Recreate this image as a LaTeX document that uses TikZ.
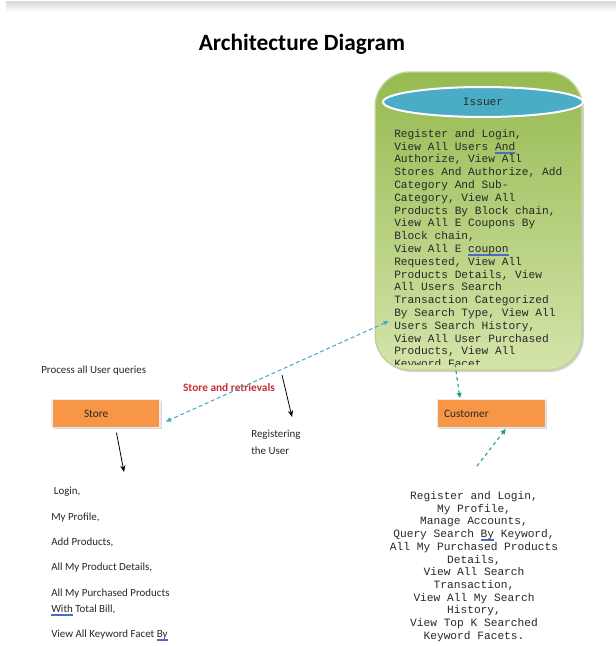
\documentclass[tikz,border=0pt]{standalone}
\usepackage{fontspec}
\setmainfont{Carlito}
\newfontfamily\monofont{Liberation Mono}
\usetikzlibrary{arrows.meta,shadows,calc,shapes.geometric}

\definecolor{issuerblue}{RGB}{75,172,198}
\definecolor{greentop}{RGB}{150,186,80}
\definecolor{greenbot}{RGB}{212,228,170}
\definecolor{greenedge}{RGB}{190,212,150}
\definecolor{boxorange}{RGB}{247,150,70}
\definecolor{linkcyan}{RGB}{75,172,198}
\definecolor{linkgreen}{RGB}{30,160,95}
\definecolor{labelred}{RGB}{200,45,50}
\definecolor{flagblue}{RGB}{70,110,200}
\definecolor{bodytext}{RGB}{40,40,40}

% proofing-style double underline under a word
\newlength\flagw
\newcommand\flagged[1]{\settowidth\flagw{#1}%
  \rlap{\color{flagblue}\rule[-1.6pt]{\flagw}{0.35pt}\hspace{-\flagw}\rule[-2.4pt]{\flagw}{0.35pt}}#1}

\tikzset{
  container/.style={rectangle, rounded corners=26pt, top color=greentop, bottom color=greenbot,
    draw=greenedge, line width=1pt, minimum width=155pt, minimum height=223.5pt,
    drop shadow={opacity=0.35, shadow xshift=1.5pt, shadow yshift=-1.5pt}},
  issuerhead/.style={ellipse, fill=issuerblue, draw=white, line width=1.5pt,
    minimum width=150pt, minimum height=22.5pt, inner sep=0pt,
    drop shadow={opacity=0.3, shadow xshift=0.8pt, shadow yshift=-0.8pt},
    font=\monofont\fontsize{8.4}{10}\selectfont, text=bodytext},
  orangebox/.style={rectangle, fill=boxorange, draw=white!85!gray, line width=0.8pt,
    minimum width=81pt, minimum height=20.5pt, inner sep=0pt,
    drop shadow={opacity=0.3, shadow xshift=1.2pt, shadow yshift=-1.2pt},
    font=\fontsize{8.5}{10}\selectfont, text=bodytext, text width=79pt, align=left},
  monotext/.style={inner sep=0pt, font=\monofont\fontsize{8.4}{9.6}\selectfont, text=bodytext},
  plaintext/.style={inner sep=0pt, font=\fontsize{8.2}{12}\selectfont, text=bodytext},
  cyanlink/.style={draw=linkcyan, dashed, dash pattern=on 3pt off 2pt, line width=0.8pt,
    {Latex[length=4pt,width=4pt]}-{Latex[length=4pt,width=4pt]}},
  greenlink/.style={draw=linkgreen, dashed, dash pattern=on 2.5pt off 2.5pt, line width=0.8pt,
    -{Latex[length=4pt,width=4pt]}},
  blacklink/.style={draw=black, line width=0.6pt, -{Stealth[length=5pt,width=4pt]}},
}

\begin{document}
\begin{tikzpicture}[x=0.75pt, y=-0.75pt]
\useasboundingbox (0,0) rectangle (616,646);
\fill[white] (0,0) rectangle (616,646);
\shade[top color=gray!30, bottom color=white] (6,1) rectangle (616,12);

% heading
\node[font=\bfseries\fontsize{17.5}{20}\selectfont, text=black] (title) at (302,44) {Architecture Diagram};

% issuer container
\node[container] (issuerbox) at (478.5,221) {};
\node[issuerhead] (issuer) at (483,102) {Issuer};
\begin{scope}
  \clip (380,118) rectangle (580,364);
  \node[monotext, anchor=north west, align=left] (issuertext) at (394,129) {%
Register and Login,\\
View All Users \flagged{And}\\
Authorize, View All\\
Stores And Authorize, Add\\
Category And Sub-\\
Category, View All\\
Products By Block chain,\\
View All E Coupons By\\
Block chain,\\
View All E \flagged{coupon}\\
Requested, View All\\
Products Details, View\\
All Users Search\\
Transaction Categorized\\
By Search Type, View All\\
Users Search History,\\
View All User Purchased\\
Products, View All\\
Keyword Facet};
\end{scope}

% store side
\node[plaintext, anchor=west] (process) at (41,371) {Process all User queries};
\node[orangebox] (store) at (106,413.5) {\hspace*{23pt}Store};
\node[font=\bfseries\fontsize{8.5}{10}\selectfont, text=labelred, inner sep=0pt] (retrieval) at (229,388) {Store and retrievals};
\node[plaintext, anchor=north west, align=left, font=\fontsize{8.2}{12.5}\selectfont] (registering) at (251,430) {Registering\\the User};

\node[plaintext, anchor=north west, align=left] (storelist) at (51,487) {%
\hspace*{2pt}Login,\\[7pt]
My Profile,\\[7pt]
Add Products,\\[7pt]
All My Product Details,\\[7pt]
All My Purchased Products\\
\flagged{With} Total Bill,\\[7pt]
View All Keyword Facet \flagged{By}};

% customer side
\node[orangebox] (customer) at (491.5,413.5) {\hspace*{4pt}Customer};
\node[monotext, anchor=north, align=center, font=\monofont\fontsize{8.4}{9.55}\selectfont] (customerlist) at (474,491) {%
Register and Login,\\
My Profile,\\
Manage Accounts,\\
Query Search \flagged{By} Keyword,\\
All My Purchased Products\\
Details,\\
View All Search\\
Transaction,\\
View All My Search\\
History,\\
View Top K Searched\\
Keyword Facets.};

% connectors
\coordinate (queryEnd) at (389,321);
\coordinate (storeEnd) at ($(store.south east)+(5,-6)$);
\draw[cyanlink] (queryEnd) -- (storeEnd);

\coordinate (issuerFoot) at (455,364);
\draw[greenlink] (issuerFoot) -- ($(customer.north west)+(23,-1)$);

\coordinate (customerFeed) at (477,466);
\draw[greenlink] (customerFeed) -- ($(customer.south west)+(69,1)$);

\coordinate (storeListTop) at (124,472);
\draw[blacklink] ($(store.south west)+(65,5)$) -- (storeListTop);

\coordinate (regStart) at (282,375);
\coordinate (regEnd) at (292,417);
\draw[blacklink] (regStart) -- (regEnd);
\end{tikzpicture}
\end{document}
